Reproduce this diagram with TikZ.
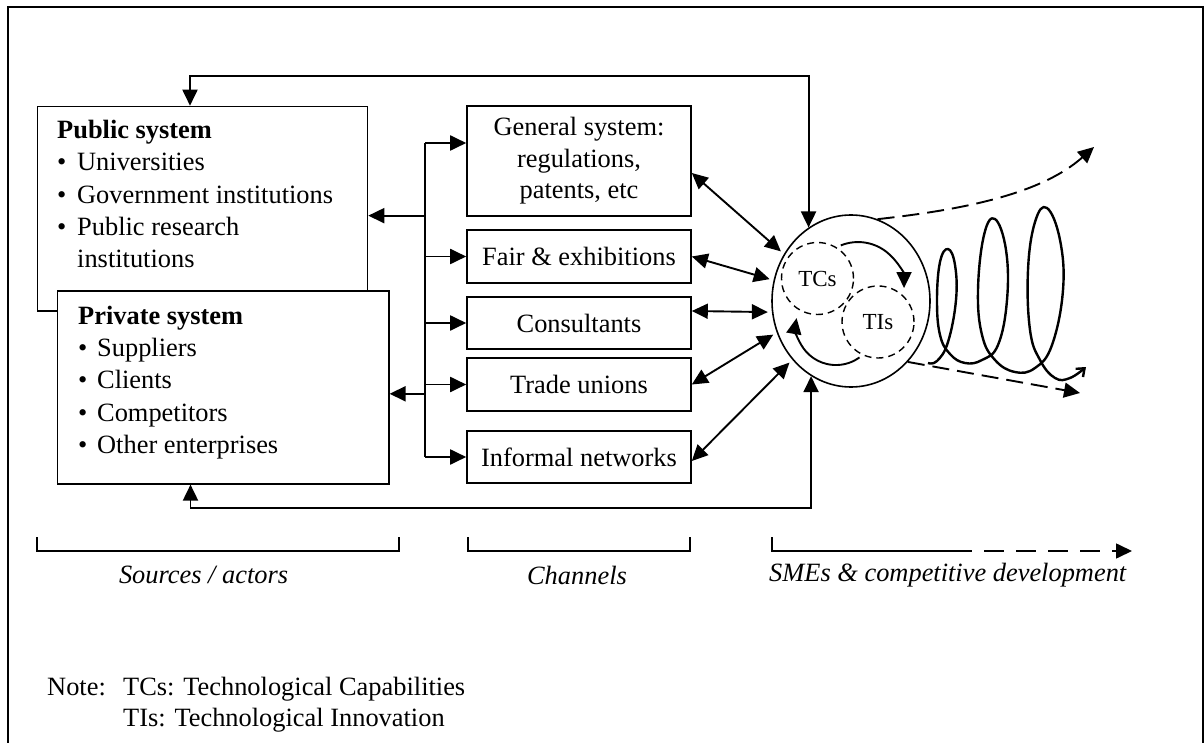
\documentclass[tikz,border=0pt]{standalone}
\usepackage{fontspec}
\setmainfont{Liberation Serif}
\usetikzlibrary{arrows.meta,shapes.geometric}
\newcommand\diagfont{\fontsize{26.4}{31.5}\selectfont}
\begin{document}
\begin{tikzpicture}[x=1pt,y=1pt,
  >={Triangle[length=16pt,width=15pt]},
  every node/.style={font=\diagfont},
  box/.style={draw,line width=1.6pt,inner sep=0pt,fill=white},
  txt/.style={inner sep=0pt,text height=18pt,text depth=6pt,anchor=west},
  conn/.style={line width=1.9pt},
  dbl/.style={conn,<->},
  envdash/.style={dash pattern=on 17pt off 8pt},
  smalldash/.style={dash pattern=on 7pt off 5pt},
  brk/.style={line width=1.6pt},
  inner/.style={draw,circle,smalldash,line width=1.4pt,minimum size=72pt,inner sep=0pt,
    font=\fontsize{23}{26}\selectfont}
]
\useasboundingbox (0,0) rectangle (1204,-743);

% outer frame
\draw[line width=2pt] (7.5,-743) -- (7.5,-6.7) -- (1203,-6.7) -- (1203,-743);

% sources / actors
\node[box,anchor=north west,minimum width=330pt,minimum height=204.3pt] (pub) at (36.7,-105.7) {};
\node[box,anchor=north west,minimum width=331.3pt,minimum height=193pt] (priv) at (56.7,-290) {};

\node[txt] (pubt) at (57,-133) {\textbf{Public system}};
\node[txt] (pub1) at (57,-165) {\makebox[20pt][l]{\textbullet}Universities};
\node[txt] (pub2) at (57,-198) {\makebox[20pt][l]{\textbullet}Government institutions};
\node[txt] (pub3) at (57,-230) {\makebox[20pt][l]{\textbullet}Public research};
\node[txt] (pub4) at (77,-262) {institutions};

\node[txt] (privt) at (78,-318) {\textbf{Private system}};
\node[txt] (priv1) at (78,-350) {\makebox[19pt][l]{\textbullet}Suppliers};
\node[txt] (priv2) at (78,-382) {\makebox[19pt][l]{\textbullet}Clients};
\node[txt] (priv3) at (78,-415) {\makebox[19pt][l]{\textbullet}Competitors};
\node[txt] (priv4) at (78,-447) {\makebox[19pt][l]{\textbullet}Other enterprises};

% channels
\node[box,minimum width=224pt,minimum height=110pt,align=center] (gen) at (579,-161)
  {General system:\\regulations,\\patents, etc};
\node[box,minimum width=224pt,minimum height=53pt] (fair) at (579,-256.5) {Fair \& exhibitions};
\node[box,minimum width=224pt,minimum height=52pt] (cons) at (579,-323) {Consultants};
\node[box,minimum width=224pt,minimum height=53pt] (trade) at (579,-384.5) {Trade unions};
\node[box,minimum width=224pt,minimum height=52pt] (inf) at (579,-457) {Informal networks};

% SMEs: capabilities and innovation
\node[draw,ellipse,line width=1.6pt,minimum width=158pt,minimum height=172pt,inner sep=0pt] (circ) at (851,-301) {};
\node[inner] (tcs) at (817.5,-278.5) {TCs};
\node[inner] (tis) at (878,-322) {TIs};
\draw[conn,->] (840.8,-245.4) arc[start angle=112,end angle=0,radius=46pt];
\draw[conn,->] (859.5,-357.4) arc[start angle=-54,end angle=-190,radius=40pt];

% distribution trunk
\coordinate (trk) at (425,0);
\coordinate (g1) at ([yshift=18pt]gen.west);
\draw[conn] (g1 -| trk) -- (inf.west -| trk);
\draw[conn,->] (g1 -| trk) -- (g1);
\draw[conn,->] (fair.west -| trk) -- (fair.west);
\draw[conn,->] (cons.west -| trk) -- (cons.west);
\draw[conn,->] (trade.west -| trk) -- (trade.west);
\draw[conn,->] (inf.west -| trk) -- (inf.west);
\coordinate (p1) at ([yshift=-7pt]pub.east);
\draw[conn,->] (p1 -| trk) -- (p1);
\coordinate (p2) at ([yshift=-6.5pt]priv.east);
\draw[conn,->] (p2 -| trk) -- (p2);

% channels <-> SMEs
\coordinate (g2) at ([yshift=-12pt]gen.east);
\draw[dbl,shorten >=4pt] (g2) -- (circ.145);
\draw[dbl,shorten >=4pt] (fair.east) -- (circ.165);
\coordinate (c2) at ([yshift=12pt]cons.east);
\draw[dbl,shorten >=4pt] (c2) -- (circ.188);
\draw[dbl,shorten >=4pt] (trade.east) -- (circ.203);
\coordinate (i2) at ([yshift=-4pt]inf.east);
\draw[dbl,shorten >=4pt] (i2) -- (circ.225);

% feedback loops
\coordinate (fbt) at (190,-76);
\draw[dbl] (pub.north -| fbt) |- (circ.120 |- fbt) -- (circ.120);
\coordinate (fbb) at (190.5,-508);
\draw[dbl] (priv.south -| fbb) |- (circ.242 |- fbb) -- (circ.242);

% growth envelope and coil
\draw[conn,envdash,->] (circ.72) .. controls (960,-210) and (1040,-195) .. (1094,-147);
\draw[conn,envdash,->] (circ.-47) -- (1080,-393);
\draw[line width=2.4pt,line join=round,-{Straight Barb[length=7pt,width=11pt]}]
  plot[smooth,tension=0.7] coordinates {
  (928,-363) (937,-361) (948,-342) (956,-300) (955,-265) (948,-249) (940,-262)
  (937,-300) (940,-335) (950,-354) (965,-363) (982,-360) (998,-345) (1007,-300)
  (1006,-250) (995,-219) (984,-235) (978,-290) (982,-335) (995,-360) (1015,-372)
  (1035,-368) (1052,-345) (1063,-290) (1060,-240) (1047,-208) (1035,-222)
  (1028,-270) (1030,-330) (1040,-360) (1055,-378) (1070,-378) (1086,-367)};

% axis brackets
\draw[brk] (37,-537) -- (37,-551) -- (399,-551) -- (399,-537);
\draw[brk] (468,-537) -- (468,-551) -- (690,-551) -- (690,-537);
\draw[brk] (772,-537) -- (772,-551) -- (952,-551);
\draw[brk,dash pattern=on 20pt off 12pt,->] (952,-551) -- (1132,-551);
\node (lsrc) at (203.6,-575) {\textit{Sources / actors}};
\node (lch) at (577,-575) {\textit{Channels}};
\node (lsme) at (948,-575) {\textit{SMEs \& competitive development}};

% note
\node[txt] (note) at (47,-689) {Note:};
\node[txt] (n1) at (123,-689) {TCs: Technological Capabilities};
\node[txt] (n2) at (123,-720) {TIs: Technological Innovation};
\end{tikzpicture}
\end{document}
